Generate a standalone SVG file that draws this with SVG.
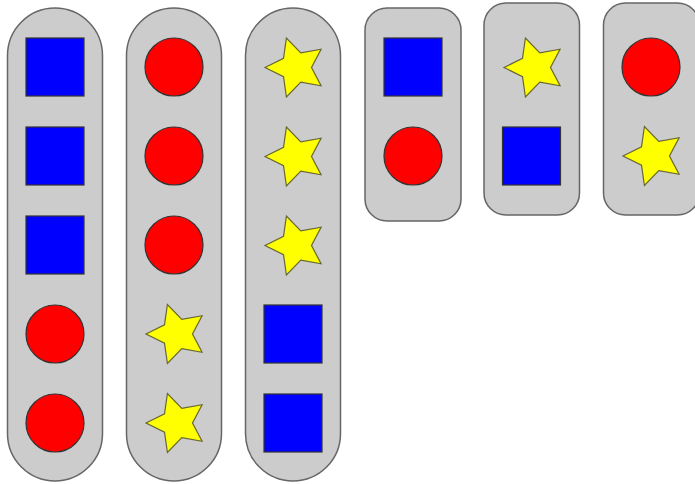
<svg xmlns="http://www.w3.org/2000/svg" xmlns:xlink="http://www.w3.org/1999/xlink" width="695" height="484" viewBox="0 0 695 484">
<style>
.box{fill:#cccccc;stroke:#666666;stroke-width:1.5}
.sq{fill:#0000ff;stroke:#333333;stroke-width:1.2}
.ci{fill:#ff0000;stroke:#333333;stroke-width:1.2}
.st{fill:#ffff00;stroke:#666633;stroke-width:1.2;stroke-linejoin:miter}
</style>
<defs>
<rect id="sq" class="sq" x="-29" y="-29" width="58" height="58"/>
<circle id="ci" class="ci" r="29"/>
<path id="st" class="st" d="M-31,0 L-12.5,-9.1 L-9.58,-29.48 L4.8,-14.7 L25.08,-18.22 L15.5,0 L25.08,18.22 L4.8,14.7 L-9.58,29.48 L-12.5,9.1 Z"/>
</defs>
<g id="group1">
<rect class="box" x="7.5" y="8" width="95" height="473" rx="47.5" ry="47.5"/>
<use href="#sq" x="55" y="67"/>
<use href="#sq" x="55" y="156"/>
<use href="#sq" x="55" y="245"/>
<use href="#ci" x="55" y="334"/>
<use href="#ci" x="55" y="423"/>
</g>
<g id="group2">
<rect class="box" x="126.5" y="8" width="95" height="473" rx="47.5" ry="47.5"/>
<use href="#ci" x="174" y="67"/>
<use href="#ci" x="174" y="156"/>
<use href="#ci" x="174" y="245"/>
<use href="#st" x="177" y="334"/>
<use href="#st" x="177" y="423"/>
</g>
<g id="group3">
<rect class="box" x="245.5" y="8" width="95" height="473" rx="47.5" ry="47.5"/>
<use href="#st" x="296" y="67.5"/>
<use href="#st" x="296" y="156.5"/>
<use href="#st" x="296" y="245.5"/>
<use href="#sq" x="293" y="334"/>
<use href="#sq" x="293" y="423"/>
</g>
<g id="group4">
<rect class="box" x="365" y="8" width="96" height="213" rx="22" ry="22"/>
<use href="#sq" x="413" y="67"/>
<use href="#ci" x="413" y="156"/>
</g>
<g id="group5">
<rect class="box" x="484" y="3" width="95.5" height="212" rx="22" ry="22"/>
<use href="#st" x="535" y="67.5"/>
<use href="#sq" x="531.5" y="156"/>
</g>
<g id="group6">
<rect class="box" x="603.5" y="3" width="96" height="212" rx="22" ry="22"/>
<use href="#ci" x="651" y="67"/>
<use href="#st" x="654" y="156"/>
</g>
<g id="connectors"/>
</svg>
